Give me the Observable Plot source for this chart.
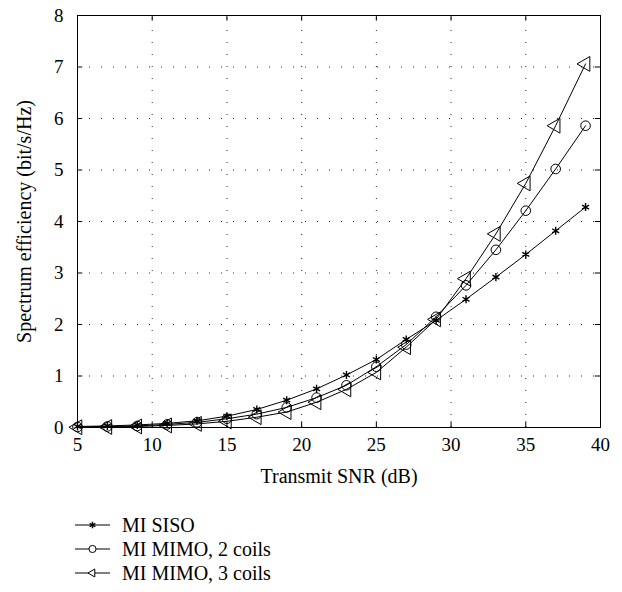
<!DOCTYPE html>
<html>
<head>
<meta charset="utf-8">
<script src="https://cdn.jsdelivr.net/npm/d3@7"></script>
<script src="https://cdn.jsdelivr.net/npm/@observablehq/plot@0.6"></script>
<style>
  html, body { margin: 0; padding: 0; background: #fff; }
  body { width: 622px; font-family: "Liberation Serif", "DejaVu Serif", serif; }
  #chart svg { display: block; }
  #legend { margin-left: 75px; margin-top: 23px; font-size: 20px; color: #000; }
  .row { display: flex; align-items: center; height: 24px; }
  .row svg { margin-right: 12px; display: block; }
</style>
</head>
<body>
<div id="chart"></div>
<div id="legend"></div>
<script>
const snr = [5, 7, 9, 11, 13, 15, 17, 19, 21, 23, 25, 27, 29, 31, 33, 35, 37, 39];
const siso = [0.02, 0.03, 0.05, 0.08, 0.13, 0.22, 0.35, 0.53, 0.75, 1.02, 1.32, 1.71, 2.08, 2.49, 2.92, 3.36, 3.82, 4.28];
const mimo2 = [0.01, 0.02, 0.03, 0.06, 0.10, 0.17, 0.26, 0.39, 0.58, 0.82, 1.18, 1.61, 2.15, 2.76, 3.45, 4.21, 5.02, 5.86];
const mimo3 = [0.005, 0.01, 0.02, 0.04, 0.07, 0.12, 0.20, 0.30, 0.49, 0.74, 1.07, 1.56, 2.10, 2.89, 3.76, 4.74, 5.86, 7.06];
const seriesNames = ["MI SISO", "MI MIMO, 2 coils", "MI MIMO, 3 coils"];
const xTicks = [5, 10, 15, 20, 25, 30, 35, 40];
const yTicks = [0, 1, 2, 3, 4, 5, 6, 7, 8];

const data = [];
[siso, mimo2, mimo3].forEach((vals, k) => {
  vals.forEach((v, i) => data.push({series: seriesNames[k], x: snr[i], y: v}));
});

const xTickLen = 0.35;  // in x data units (inward ticks on y-axes)
const yTickLen = 0.11;  // in y data units (inward ticks on x-axes)

const chart = Plot.plot({
  width: 622,
  height: 490,
  marginLeft: 77,
  marginRight: 22,
  marginTop: 15,
  marginBottom: 63,
  style: {fontFamily: "'Liberation Serif', 'DejaVu Serif', serif", fontSize: "19px", color: "#000", background: "#fff", overflow: "visible"},
  x: {domain: [5, 40], ticks: xTicks},
  y: {domain: [0, 8], ticks: yTicks},
  marks: [
    // dotted grid
    Plot.ruleX(xTicks.slice(1, -1), {y1: 0, y2: 8, stroke: "#000", strokeWidth: 1, strokeDasharray: "1,11", strokeOpacity: 0.85}),
    Plot.ruleY(yTicks.slice(1, -1), {x1: 5, x2: 40, stroke: "#000", strokeWidth: 1, strokeDasharray: "1,11", strokeOpacity: 0.85}),
    // inward ticks
    Plot.ruleX(xTicks, {y1: 0, y2: yTickLen, stroke: "#000"}),
    Plot.ruleX(xTicks, {y1: 8 - yTickLen, y2: 8, stroke: "#000"}),
    Plot.ruleY(yTicks, {x1: 5, x2: 5 + xTickLen, stroke: "#000"}),
    Plot.ruleY(yTicks, {x1: 40 - xTickLen, x2: 40, stroke: "#000"}),
    Plot.frame({stroke: "#000", strokeWidth: 1}),
    // axes
    Plot.axisX({ticks: xTicks, tickSize: 0, tickPadding: 10, fontSize: 19, label: null}),
    Plot.axisX({ticks: [], tickSize: 0, label: "Transmit SNR (dB)", labelAnchor: "center", labelArrow: "none", labelOffset: 55, fontSize: 20}),
    Plot.axisY({ticks: yTicks, tickSize: 0, tickPadding: 14, fontSize: 19, label: null}),
    Plot.axisY({ticks: [], tickSize: 0, label: "Spectrum efficiency (bit/s/Hz)", labelAnchor: "center", labelArrow: "none", labelOffset: 61, fontSize: 20}),
    // lines
    Plot.line(data, {x: "x", y: "y", z: "series", stroke: "#000", strokeWidth: 1}),
    // markers
    Plot.dot(data.filter(d => d.series === seriesNames[0]), {x: "x", y: "y", symbol: "asterisk", r: 3.8, stroke: "#000", strokeWidth: 1.4}),
    Plot.dot(data.filter(d => d.series === seriesNames[1]), {x: "x", y: "y", symbol: "circle", r: 4.8, stroke: "#000", fill: "none", strokeWidth: 1}),
    Plot.dot(data.filter(d => d.series === seriesNames[2]), {x: "x", y: "y", symbol: "triangle", r: 5.5, rotate: -90, stroke: "#000", fill: "none", strokeWidth: 1})
  ]
});
document.getElementById("chart").appendChild(chart);

// legend
const legend = document.getElementById("legend");
const symbols = [d3.symbolAsterisk, d3.symbolCircle, d3.symbolTriangle2];
const sizes = [30, 40, 45];
seriesNames.forEach((name, k) => {
  const row = document.createElement("div");
  row.className = "row";
  const s = d3.create("svg").attr("width", 35).attr("height", 16);
  s.append("line").attr("x1", 0).attr("x2", 35).attr("y1", 8).attr("y2", 8).attr("stroke", "#000");
  s.append("path")
    .attr("d", d3.symbol(symbols[k], sizes[k])())
    .attr("transform", `translate(17.5,8)` + (k === 2 ? " rotate(-90)" : ""))
    .attr("fill", k === 0 ? "#000" : "#fff")
    .attr("stroke", "#000")
    .attr("stroke-width", k === 0 ? 1.4 : 1);
  row.appendChild(s.node());
  const t = document.createElement("span");
  t.textContent = name;
  row.appendChild(t);
  legend.appendChild(row);
});
</script>
</body>
</html>
